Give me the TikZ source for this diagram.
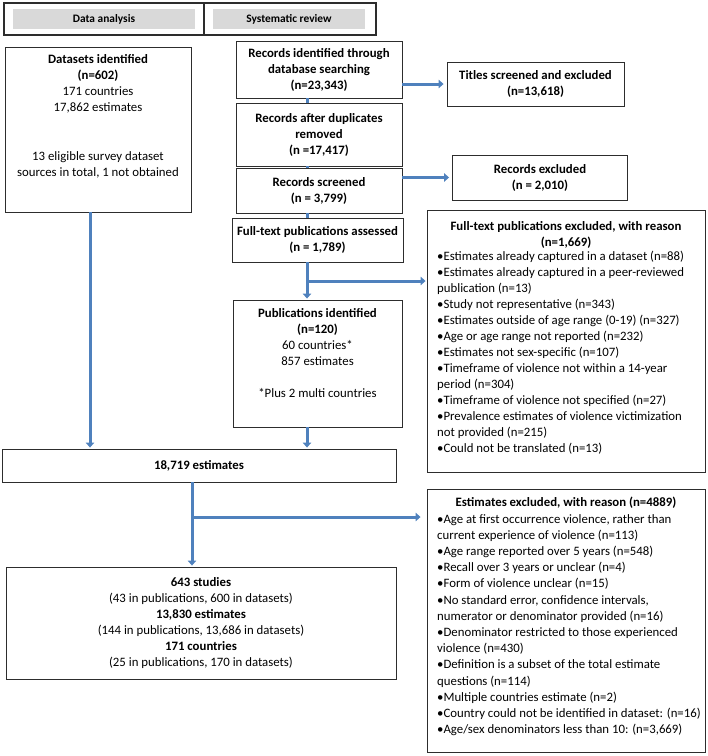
\documentclass[tikz,border=0pt]{standalone}
\usepackage{fontspec}
\setmainfont{Carlito}
\usetikzlibrary{arrows.meta,positioning}
\definecolor{flowblue}{RGB}{79,129,189}
\definecolor{boxline}{RGB}{45,45,45}
\definecolor{headgray}{RGB}{217,217,217}
\tikzset{
  box/.style={draw=boxline, line width=0.9pt, align=center, inner sep=0pt},
  flow/.style={draw=flowblue, line width=3pt, -{Triangle[length=5pt,width=8.5pt]}, shorten >=1pt},
  stub/.style={draw=flowblue, line width=3pt},
  headbar/.style={fill=headgray, inner sep=0pt, font=\fontsize{11.4}{14}\selectfont\bfseries},
  txt/.style={inner sep=0pt, align=center},
  list/.style={inner sep=0pt, align=left, anchor=north west},
}

\begin{document}
\begin{tikzpicture}[x=1pt, y=-1pt, every node/.style={font=\fontsize{12.8}{16}\selectfont}]
\useasboundingbox (0,0) rectangle (708,756);

% headers
\node[box, line width=1.3pt, minimum width=200pt, minimum height=32pt] (hda) at (104,19) {};
\node[box, line width=1.3pt, minimum width=172pt, minimum height=32pt] (hsr) at (290,19) {};
\node[headbar, minimum width=182pt, minimum height=20pt] (hdabar) at (104,19) {Data analysis};
\node[headbar, minimum width=152pt, minimum height=20pt] (hsrbar) at (289,19) {Systematic review};

% data analysis
\node[box, minimum width=186pt, minimum height=165pt] (ds) at (98,129.5) {};
\node[txt, below=8pt of ds.north] (dstxt)
  {\textbf{Datasets identified}\\\textbf{(n=602)}\\171 countries\\17,862 estimates\\[33pt]13 eligible survey dataset\\sources in total, 1 not obtained};

% systematic review
\node[box, minimum width=166pt, minimum height=57pt] (rec1) at (319,69.5)
  {\textbf{Records identified through}\\\textbf{database searching}\\\textbf{(n=23,343)}};
\node[box, minimum width=166pt, minimum height=63pt] (rec2) at (319,134.5)
  {\textbf{Records after duplicates}\\\textbf{removed}\\\textbf{(n =17,417)}};
\node[box, minimum width=166pt, minimum height=45pt] (rec3) at (319,190.5)
  {\textbf{Records screened}\\\textbf{(n = 3,799)}};
\node[box, minimum width=171pt, minimum height=44pt] (rec4) at (317.5,240)
  {\textbf{Full-text publications assessed}\\\textbf{(n = 1,789)}};
\node[box, minimum width=169pt, minimum height=127pt] (pub) at (317.5,363.5) {};
\node[txt, below=9pt of pub.north] (pubtxt)
  {\textbf{Publications identified}\\\textbf{(n=120)}\\60 countries*\\857 estimates\\[16pt]*Plus 2 multi countries};

% exclusions
\node[box, minimum width=177pt, minimum height=44pt] (tit) at (535.5,84)
  {\textbf{Titles screened and excluded}\\\textbf{(n=13,618)}};
\node[box, minimum width=175pt, minimum height=45pt] (recex) at (540,177.5)
  {\textbf{Records excluded}\\\textbf{(n = 2,010)}};
\node[box, minimum width=278pt, minimum height=262pt] (ftex) at (566,341) {};
\node[txt, below=12pt of ftex.north] (fttitle)
  {\textbf{Full-text publications excluded, with reason}\\\textbf{(n=1,669)}};
\node[list] (ftlist) at (437,251)
  {•Estimates already captured in a dataset (n=88)\\
   •Estimates already captured in a peer-reviewed\\
   publication (n=13)\\
   •Study not representative (n=343)\\
   •Estimates outside of age range (0-19) (n=327)\\
   •Age or age range not reported (n=232)\\
   •Estimates not sex-specific (n=107)\\
   •Timeframe of violence not within a 14-year\\
   period (n=304)\\
   •Timeframe of violence not specified (n=27)\\
   •Prevalence estimates of violence victimization\\
   not provided (n=215)\\
   •Could not be translated (n=13)};

% pooled estimates
\node[box, minimum width=394pt, minimum height=33pt] (est) at (199,465.5) {\textbf{18,719 estimates}};
\node[box, minimum width=278pt, minimum height=263pt] (estex) at (566,620.5) {};
\node[txt, below=8pt of estex.north] (extitle) {\textbf{Estimates excluded, with reason (n=4889)}};
\node[list, font=\fontsize{12.8}{16.2}\selectfont] (exlist) at (437,514)
  {•Age at first occurrence violence, rather than\\
   current experience of violence (n=113)\\
   •Age range reported over 5 years (n=548)\\
   •Recall over 3 years or unclear (n=4)\\
   •Form of violence unclear (n=15)\\
   •No standard error, confidence intervals,\\
   numerator or denominator provided (n=16)\\
   •Denominator restricted to those experienced\\
   violence (n=430)\\
   •Definition is a subset of the total estimate\\
   questions (n=114)\\
   •Multiple countries estimate (n=2)\\
   •Country could not be identified in dataset: (n=16)\\
   •Age/sex denominators less than 10: (n=3,669)};
\node[box, minimum width=390pt, minimum height=112pt] (final) at (201,623)
  {\textbf{643 studies}\\(43 in publications, 600 in datasets)\\\textbf{13,830 estimates}\\(144 in publications, 13,686 in datasets)\\\textbf{171 countries}\\(25 in publications, 170 in datasets)};

% connectors
\coordinate (col) at (307,0);
\coordinate (col2) at (192,0);
\coordinate (dsout) at ([xshift=-8pt]ds.south);
\coordinate (br1) at (307,281);
\coordinate (br2) at (192,517);
\draw[flow] (dsout) -- (dsout |- est.north);
\draw[stub] (rec1.south -| col) -- (rec2.north -| col);
\draw[stub] (rec2.south -| col) -- (rec3.north -| col);
\draw[stub] (rec3.south -| col) -- (rec4.north -| col);
\draw[flow, shorten >=3pt] (rec1.east |- tit.west) -- (tit.west);
\draw[flow, shorten >=3pt] (rec3.east |- recex.west) -- (recex.west);
\draw[flow] (rec4.south -| col) -- (pub.north -| col);
\draw[flow] (br1) -- (br1 -| ftex.west);
\draw[flow] (pub.south -| col) -- (est.north -| col);
\draw[flow] (est.south -| col2) -- (final.north -| col2);
\draw[flow, shorten >=6pt] (br2) -- (br2 -| estex.west);
\end{tikzpicture}
\end{document}
